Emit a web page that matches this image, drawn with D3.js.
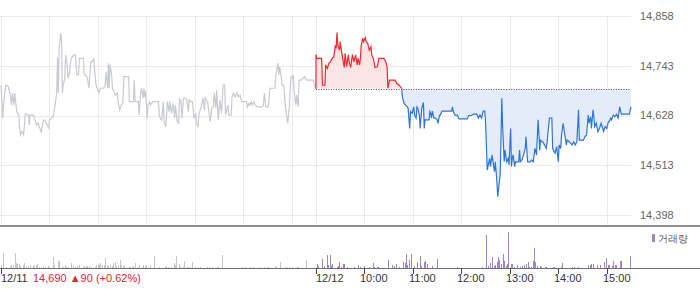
<!DOCTYPE html>
<html>
<head>
<meta charset="utf-8">
<title>12/11 - 12/12 intraday</title>
<style>
    body { margin: 0; background: #fff; }
    svg text { font-family: "Liberation Sans", Arial, sans-serif; }
</style>
</head>
<body>
<div id="chart"></div>

<script src="https://d3js.org/d3.v7.min.js"></script>
<script>

// ---- data ----
var prevClose = 14690;                       // 12/11 close, the dotted reference line
var priceTicks = [14398, 14513, 14628, 14743, 14858];
var dayLabels = ["12/11", "12/12"];
var hourLabels = ["10:00", "11:00", "12:00", "13:00", "14:00", "15:00"];
var quoteText = "14,690 \u25B290 (+0.62%)";
var volumeLabel = "거래량";

// minutes since 09:00 and price, day 1 (12/11)
var day1Min = [0,1,2,4,6,9,11,13,14,16,17,19,20,22,23,24,26,28,29,30,32,34,35,36,40,42,44,46,48,50,
    52,54,57,59,60,63,65,67,69,70,71,72,73,74,75,76,77,79,80,82,83,85,86,87,90,92,93,94,96,97,
    100,102,103,105,107,109,111,113,115,116,118,119,121,123,125,127,129,130,132,133,134,135,137,138,140,142,144,145,147,149,
    151,152,156,158,159,162,164,165,166,168,170,171,173,174,176,177,178,179,181,182,184,185,188,191,193,195,196,197,199,201,
    202,204,206,208,209,211,213,215,216,218,220,221,223,224,226,228,230,232,233,235,237,239,241,242,244,245,246,248,250,252,
    253,256,258,259,261,263,264,266,267,269,271,273,275,277,278,281,282,285,286,288,290,292,294,296,298,301,304,305,307,308,
    310,311,313,315,317,319,323,325,326,328,331,333,337,339,340,343,344,345,347,348,350,352,354,355,357,358,359,361,362,363,
    365,366,368,369,372,376,378,382,387,389,390];
var day1Price = [14698,14668,14622,14671,14698,14695,14680,14652,14680,14652,14680,14645,14634,14629,14599,14583,14591,14583,14606,14631,14631,14629,14606,14629,14629,14618,14606,14610,14599,14590,
    14614,14618,14606,14599,14618,14622,14629,14652,14680,14761,14680,14791,14799,14818,14799,14680,14698,14714,14768,14745,14714,14729,14749,14760,14768,14768,14745,14722,14722,14760,
    14760,14760,14722,14722,14714,14691,14752,14752,14760,14729,14695,14691,14680,14691,14691,14691,14698,14729,14691,14749,14691,14745,14722,14691,14683,14675,14680,14660,14641,14652,
    14660,14718,14718,14718,14660,14660,14660,14710,14660,14660,14660,14629,14683,14691,14668,14691,14671,14683,14622,14652,14660,14652,14660,14660,14660,14660,14629,14622,14618,14660,
    14614,14602,14660,14637,14660,14633,14656,14622,14652,14614,14610,14668,14660,14622,14668,14668,14664,14637,14664,14660,14660,14622,14633,14610,14602,14629,14637,14648,14668,14641,
    14671,14656,14629,14614,14645,14648,14680,14645,14687,14618,14664,14633,14698,14698,14629,14652,14629,14629,14671,14680,14671,14680,14671,14675,14660,14660,14660,14648,14656,14652,
    14660,14652,14660,14652,14648,14648,14648,14652,14680,14648,14648,14691,14691,14691,14718,14749,14722,14741,14718,14698,14698,14652,14622,14610,14648,14687,14718,14714,14722,14683,
    14652,14675,14648,14710,14710,14718,14710,14710,14710,14691,14690];

// minutes since 09:00 and price, day 2 (12/12)
var day2Min = [0,1,3,5,7,8,11,12,14,16,18,20,22,24,25,26,27,29,30,31,33,35,36,38,40,41,43,45,47,49,
    51,52,54,55,56,58,59,61,62,64,66,68,69,71,73,76,78,82,84,86,88,89,91,94,98,100,103,106,107,109,
    111,113,114,116,117,119,121,122,124,125,126,128,129,131,133,134,135,137,140,141,142,143,144,146,148,150,151,153,154,156,
    160,164,168,169,170,172,175,177,181,185,187,189,192,195,199,201,203,205,207,209,210,212,215,216,218,220,221,222,224,225,
    227,228,229,230,231,233,234,236,238,239,241,242,243,244,246,247,251,252,253,255,257,259,260,262,265,267,269,271,273,275,
    277,278,280,281,283,285,286,289,292,293,295,296,298,300,301,303,304,306,308,310,311,314,317,319,321,323,325,326,331,333,
    335,337,338,340,341,343,344,345,347,349,351,353,355,356,358,360,362,363,365,366,368,370,372,374,376,378,382,388,390];
var day2Price = [14769,14760,14760,14760,14760,14698,14698,14745,14737,14749,14752,14760,14764,14791,14783,14820,14791,14779,14799,14783,14760,14739,14772,14741,14768,14752,14739,14769,14752,14768,
    14745,14760,14745,14760,14791,14806,14799,14808,14799,14795,14779,14787,14768,14760,14739,14741,14760,14760,14760,14754,14741,14691,14710,14710,14710,14702,14698,14691,14671,14656,
    14652,14648,14645,14598,14637,14633,14648,14629,14622,14648,14645,14629,14598,14645,14658,14598,14618,14618,14618,14637,14633,14622,14638,14622,14622,14618,14610,14629,14629,14638,
    14638,14638,14638,14648,14637,14629,14629,14620,14620,14620,14620,14628,14628,14631,14631,14622,14629,14622,14638,14638,14610,14502,14529,14510,14537,14510,14498,14521,14475,14440,
    14475,14490,14567,14668,14606,14521,14548,14521,14529,14514,14598,14510,14529,14537,14510,14521,14521,14548,14521,14525,14537,14552,14579,14521,14521,14525,14521,14552,14537,14618,
    14548,14571,14567,14567,14560,14552,14564,14622,14622,14552,14544,14541,14556,14521,14560,14552,14583,14610,14583,14560,14571,14567,14560,14567,14560,14567,14641,14571,14571,14579,
    14583,14629,14610,14625,14598,14641,14625,14602,14610,14591,14598,14610,14598,14591,14602,14598,14614,14614,14622,14618,14629,14625,14631,14622,14648,14631,14631,14631,14648];

// volume (relative units), minutes since 09:00
var vol1Min = [0,2,3,6,11,13,15,17,19,20,22,24,27,28,31,34,36,39,41,43,45,47,52,54,58,60,65,66,70,72,
    75,77,79,81,83,87,89,92,94,96,101,103,105,107,109,111,116,118,120,121,123,125,127,129,131,133,135,137,139,141,
    143,145,147,148,151,152,158,160,162,164,166,168,171,174,176,178,180,182,185,189,196,203,204,207,211,214,215,217,220,222,
    225,227,230,232,234,237,240,244,246,255,257,261,267,269,273,274,298,302,308,312,319,325,329,331,339,341,345,352,354,356,
    360,366,368,378];
var vol1 = [33,80,150,7,17,27,33,150,50,40,40,17,27,50,17,17,27,33,17,27,40,13,17,10,17,10,107,33,73,67,
    10,10,27,10,10,50,20,10,17,27,10,17,17,17,17,10,10,27,40,27,50,27,33,100,27,17,27,17,50,60,
    17,33,83,27,17,17,10,10,10,17,50,10,33,10,27,17,33,10,33,123,10,10,20,10,10,50,33,123,40,10,
    10,73,10,10,10,60,10,10,10,10,10,10,10,10,10,133,10,10,10,10,10,10,10,10,10,17,60,10,10,10,
    10,10,10,80];
var vol2Min = [1,2,8,10,13,14,15,17,18,20,26,27,29,31,33,34,35,38,47,52,54,59,65,70,72,75,77,89,94,97,
    99,103,108,110,112,113,115,117,118,121,125,129,130,134,135,137,143,150,175,206,210,211,213,215,216,218,220,222,224,225,
    226,227,229,231,232,233,235,237,238,241,243,245,249,253,255,258,260,262,264,266,269,270,271,274,277,279,284,285,294,295,
    303,305,317,319,324,337,339,341,343,348,352,356,359,361,363,366,368,370,372,376,378,389];
var vol2 = [40,17,90,17,133,93,33,133,17,43,10,17,60,10,17,40,40,10,10,27,10,17,10,50,10,10,10,80,33,17,
    40,10,60,50,140,33,83,140,33,17,60,120,17,60,67,40,17,90,10,10,190,327,17,50,33,107,17,33,60,107,
    40,83,40,27,140,67,17,40,360,40,40,10,27,10,17,27,40,60,10,10,73,200,60,17,17,10,10,10,10,10,
    10,50,10,10,10,27,33,40,43,33,27,60,100,27,33,17,73,33,27,73,73,123];

// ---- chart ----
var W = 700, H = 289;
var dayLen = 390;        // 09:00 - 15:30

var svg = d3.select("#chart").append("svg")
    .attr("width", W)
    .attr("height", H);

var x = d3.scaleLinear().domain([0, dayLen * 2]).range([1, 631]);
var y = d3.scaleLinear().domain([14398, 14858]).range([215, 16]);
var yVol = d3.scaleLinear().domain([0, 400]).range([268, 228]);

function crisp(v) { return Math.round(v) + 0.5; }

var day1 = day1Min.map(function(m, i) { return {t: m, v: day1Price[i]}; });
var day2 = day2Min.map(function(m, i) { return {t: dayLen + m, v: day2Price[i]}; });
// the move from yesterday's close to today's open belongs to today's line
day2.unshift({t: dayLen, v: day1Price[day1Price.length - 1]});

// grid
var grid = svg.append("g").attr("shape-rendering", "crispEdges");
grid.selectAll(".hgrid").data(priceTicks).enter().append("line")
    .attr("x1", 0).attr("x2", 631)
    .attr("y1", function(d) { return crisp(y(d)); })
    .attr("y2", function(d) { return crisp(y(d)); })
    .attr("stroke", "#ebebeb");

var gridMinutes = [];
for (var d = 0; d < 2; d++) {
    for (var h = 0; h <= 6; h++) gridMinutes.push(d * dayLen + h * 60);
}
grid.selectAll(".vgrid").data(gridMinutes).enter().append("line")
    .attr("x1", function(d) { return crisp(x(d)); })
    .attr("x2", function(d) { return crisp(x(d)); })
    .attr("y1", 16).attr("y2", 225)
    .attr("stroke", "#ebebeb");

// price axis labels
svg.selectAll(".ylab").data(priceTicks).enter().append("text")
    .attr("x", 640)
    .attr("y", function(d) { return y(d); })
    .attr("dy", "0.36em")
    .attr("font-size", "11px")
    .attr("fill", "#666")
    .text(d3.format(","));

// day 2 fill + line, red above yesterday's close, blue below
var yBase = y(prevClose);
var defs = svg.append("defs");
defs.append("clipPath").attr("id", "clipUp").append("rect")
    .attr("x", 0).attr("y", 0).attr("width", W).attr("height", yBase);
defs.append("clipPath").attr("id", "clipDown").append("rect")
    .attr("x", 0).attr("y", yBase).attr("width", W).attr("height", 225 - yBase);

var area = d3.area()
    .x(function(d) { return x(d.t); })
    .y0(yBase)
    .y1(function(d) { return y(d.v); });
var line = d3.line()
    .x(function(d) { return x(d.t); })
    .y(function(d) { return y(d.v); });

svg.append("path").datum(day2).attr("d", area)
    .attr("fill", "#fde4e5").attr("clip-path", "url(#clipUp)");
svg.append("path").datum(day2).attr("d", area)
    .attr("fill", "#e3ecf8").attr("clip-path", "url(#clipDown)");

svg.append("line")
    .attr("x1", x(dayLen)).attr("x2", x(dayLen * 2))
    .attr("y1", crisp(yBase)).attr("y2", crisp(yBase))
    .attr("stroke", "#555")
    .attr("stroke-dasharray", "1,1.5");

svg.append("path").datum(day1).attr("d", line)
    .attr("fill", "none").attr("stroke", "#c8cacf").attr("stroke-width", 1.2);
svg.append("path").datum(day2).attr("d", line)
    .attr("fill", "none").attr("stroke", "#f4262f").attr("stroke-width", 1.2)
    .attr("clip-path", "url(#clipUp)");
svg.append("path").datum(day2).attr("d", line)
    .attr("fill", "none").attr("stroke", "#2f74d8").attr("stroke-width", 1.2)
    .attr("clip-path", "url(#clipDown)");

// separator between price and volume panes
svg.append("line")
    .attr("x1", 0).attr("x2", W).attr("y1", 226).attr("y2", 226)
    .attr("stroke", "#8e8e8e").attr("stroke-width", 2);

// volume bars
var vols = vol1Min.map(function(m, i) { return {t: m, v: vol1[i], day: 1}; })
    .concat(vol2Min.map(function(m, i) { return {t: dayLen + m, v: vol2[i], day: 2}; }));
svg.append("g").attr("shape-rendering", "crispEdges")
    .selectAll("rect").data(vols).enter().append("rect")
    .attr("x", function(d) { return Math.round(x(d.t)); })
    .attr("width", 1)
    .attr("y", function(d) { return Math.round(yVol(d.v)); })
    .attr("height", function(d) { return 268 - Math.round(yVol(d.v)); })
    .attr("fill", function(d) { return d.day == 1 ? "#c4c5ca" : "#9a86c8"; });

svg.append("line")
    .attr("x1", 0).attr("x2", W).attr("y1", 268.5).attr("y2", 268.5)
    .attr("stroke", "#6f6f6f");

// legend
svg.append("rect").attr("x", 652).attr("y", 234).attr("width", 3).attr("height", 8)
    .attr("fill", "#9a86c8");
svg.append("text").attr("x", 658).attr("y", 242)
    .attr("font-size", "10px")
    .attr("font-family", "'Noto Sans CJK KR', sans-serif")
    .attr("fill", "#555")
    .text(volumeLabel);

// time axis
var axisTicks = [
    {t: 0, label: dayLabels[0], dx: 0},
    {t: dayLen, label: dayLabels[1], dx: 0}
];
hourLabels.forEach(function(l, i) {
    axisTicks.push({t: dayLen + (i + 1) * 60, label: l, dx: -4});
});

svg.append("g").attr("shape-rendering", "crispEdges")
    .selectAll("line").data(axisTicks).enter().append("line")
    .attr("x1", function(d) { return crisp(x(d.t)); })
    .attr("x2", function(d) { return crisp(x(d.t)); })
    .attr("y1", 268).attr("y2", 274)
    .attr("stroke", "#444");

svg.selectAll(".xlab").data(axisTicks).enter().append("text")
    .attr("x", function(d) { return Math.round(x(d.t)) + d.dx; })
    .attr("y", 282)
    .attr("font-size", "11px")
    .attr("fill", "#333")
    .text(function(d) { return d.label; });

svg.append("text")
    .attr("x", 33).attr("y", 282)
    .attr("font-size", "11px")
    .attr("fill", "#e8232b")
    .text(quoteText);

</script>
</body>
</html>
